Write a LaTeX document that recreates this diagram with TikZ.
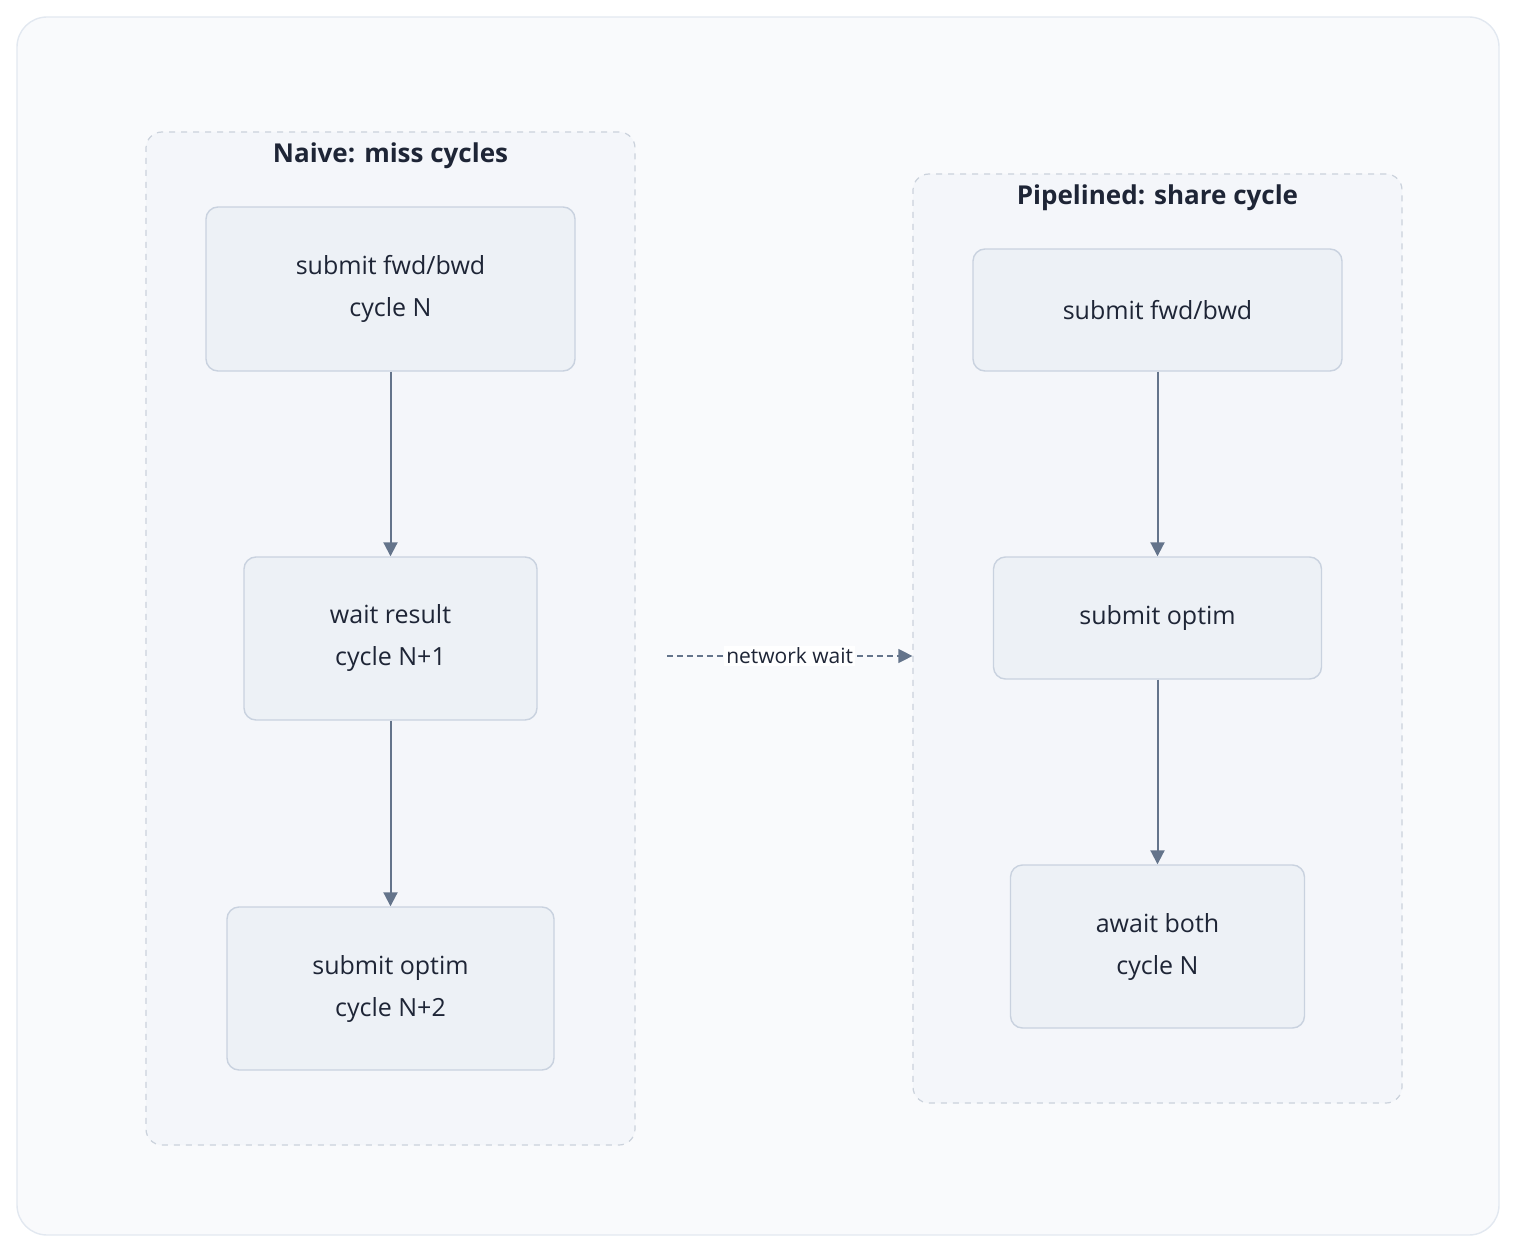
\documentclass[tikz,border=0pt]{standalone}
\usepackage{fontspec}
\setmainfont{Open Sans}
\usetikzlibrary{arrows.meta}
\definecolor{bgfill}{HTML}{F9FAFC}
\definecolor{bgline}{HTML}{E2E8F0}
\definecolor{clfill}{HTML}{F4F6FA}
\definecolor{clline}{HTML}{CBD2DC}
\definecolor{stepfill}{HTML}{EDF1F6}
\definecolor{stepline}{HTML}{C9D2DF}
\definecolor{arrowc}{HTML}{64748B}
\definecolor{textc}{HTML}{1E2536}
\tikzset{
	cluster/.style={draw=clline,fill=clfill,dashed,line width=0.6pt,rounded corners=8pt},
	stepbox/.style={draw=stepline,fill=stepfill,line width=0.7pt,rounded corners=6pt,align=center,text=textc,font=\fontsize{12.5}{21}\selectfont},
	flow/.style={draw=arrowc,line width=1pt,-{Triangle[length=7pt,width=7pt]}},
	ctitle/.style={text=textc,font=\bfseries\fontsize{13}{16}\selectfont}
}
\begin{document}
\begin{tikzpicture}[x=0.5pt,y=-0.5pt]
	\useasboundingbox (0,0) rectangle (1516,1252);
	\draw[draw=bgline,fill=bgfill,line width=0.7pt,rounded corners=15pt] (17,17) rectangle (1499,1235);
	% clusters
	\node[cluster,minimum width=244.5pt,minimum height=506.5pt] (lc) at (390.5,638.5) {};
	\node[cluster,minimum width=244.5pt,minimum height=464.5pt] (rc) at (1157.5,638.5) {};
	\node[ctitle] (lt) at (390.5,156) {Naive: miss cycles};
	\node[ctitle] (rt) at (1157.5,198) {Pipelined: share cycle};
	% left steps
	\node[stepbox,minimum width=184.5pt,minimum height=82pt] (fwdN) at (390.5,289) {submit fwd/bwd\\cycle N};
	\node[stepbox,minimum width=146.5pt,minimum height=81.5pt] (wait) at (390.5,638.5) {wait result\\cycle N+1};
	\node[stepbox,minimum width=163.5pt,minimum height=81.5pt] (optN) at (390.5,988.5) {submit optim\\cycle N+2};
	% right steps
	\node[stepbox,minimum width=184.5pt,minimum height=61pt] (fwd) at (1157.5,310) {submit fwd/bwd};
	\node[stepbox,minimum width=164pt,minimum height=61pt] (opt) at (1157.5,618) {submit optim};
	\node[stepbox,minimum width=147pt,minimum height=81.5pt] (both) at (1157.5,946.5) {await both\\cycle N};
	\draw[flow] (fwdN) -- (wait);
	\draw[flow] (wait) -- (optN);
	\draw[flow] (fwd) -- (opt);
	\draw[flow] (opt) -- (both);
	% network wait
	\coordinate (nw) at (667,656);
	\draw[flow,densely dashed,line width=0.6pt] (nw) -- node[fill=white,text=textc,font=\fontsize{10.5}{12}\selectfont,inner sep=1pt] {network wait} (rc.west |- nw);
\end{tikzpicture}
\end{document}
